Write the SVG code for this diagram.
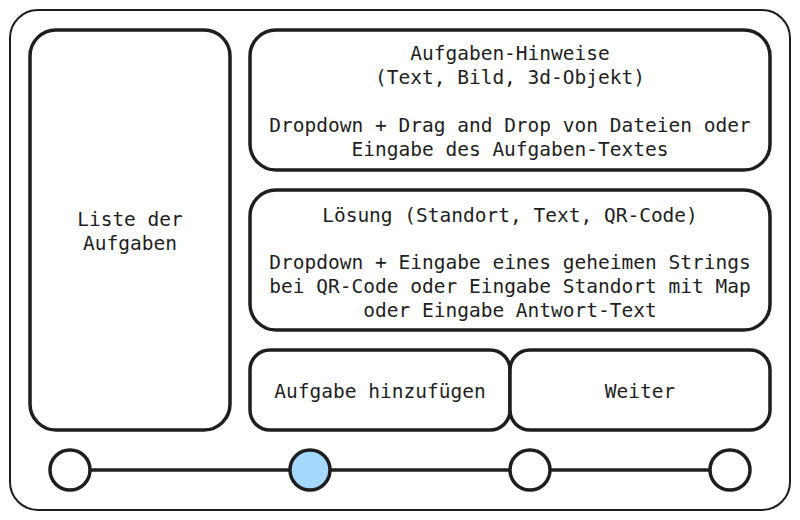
<svg xmlns="http://www.w3.org/2000/svg" width="800" height="520" viewBox="0 0 800 520">
<style>
.box{fill:#fff;stroke:#1e1e1e;stroke-width:3.5}
.frame{fill:#fff;stroke:#1e1e1e;stroke-width:2}
.dot{fill:#fff;stroke:#1e1e1e;stroke-width:3.5}
.t{font-family:"DejaVu Sans Mono","Liberation Mono",monospace;font-size:19.5px;fill:#1e1e1e;text-anchor:middle}
.line{stroke:#1e1e1e;stroke-width:3.5;fill:none}
</style>
<rect width="800" height="520" fill="#fff"/>
<g id="frame"><rect class="frame" x="10" y="10" width="780" height="500" rx="28"/></g>
<g id="list">
<rect class="box" x="30" y="30" width="200" height="400" rx="26"/>
<text class="t" x="130" y="225.5">Liste der</text>
<text class="t" x="130" y="249.5">Aufgaben</text>
</g>
<g id="hints">
<rect class="box" x="250" y="30" width="520" height="140" rx="26"/>
<text class="t" x="510" y="59.5">Aufgaben-Hinweise</text>
<text class="t" x="510" y="83.5">(Text, Bild, 3d-Objekt)</text>
<text class="t" x="510" y="131.5">Dropdown + Drag and Drop von Dateien oder</text>
<text class="t" x="510" y="155.5">Eingabe des Aufgaben-Textes</text>
</g>
<g id="solution">
<rect class="box" x="250" y="190" width="520" height="140" rx="26"/>
<text class="t" x="510" y="221.5">Lösung (Standort, Text, QR-Code)</text>
<text class="t" x="510" y="268.5">Dropdown + Eingabe eines geheimen Strings</text>
<text class="t" x="510" y="292.5">bei QR-Code oder Eingabe Standort mit Map</text>
<text class="t" x="510" y="316.5">oder Eingabe Antwort-Text</text>
</g>
<g id="add">
<rect class="box" x="250" y="350" width="260" height="80" rx="20"/>
<text class="t" x="380" y="397.5">Aufgabe hinzufügen</text>
</g>
<g id="next">
<rect class="box" x="510" y="350" width="260" height="80" rx="20"/>
<text class="t" x="640" y="397.5">Weiter</text>
</g>
<g id="connectors">
<line class="line" x1="90" y1="470" x2="290" y2="470"/>
<line class="line" x1="330" y1="470" x2="510" y2="470"/>
<line class="line" x1="550" y1="470" x2="710" y2="470"/>
</g>
<g id="step1"><ellipse class="dot" cx="70" cy="470" rx="20" ry="20"/></g>
<g id="step2"><ellipse class="dot" cx="310" cy="470" rx="20" ry="20" style="fill:#a5d8ff"/></g>
<g id="step3"><ellipse class="dot" cx="530" cy="470" rx="20" ry="20"/></g>
<g id="step4"><ellipse class="dot" cx="730" cy="470" rx="20" ry="20"/></g>
</svg>
